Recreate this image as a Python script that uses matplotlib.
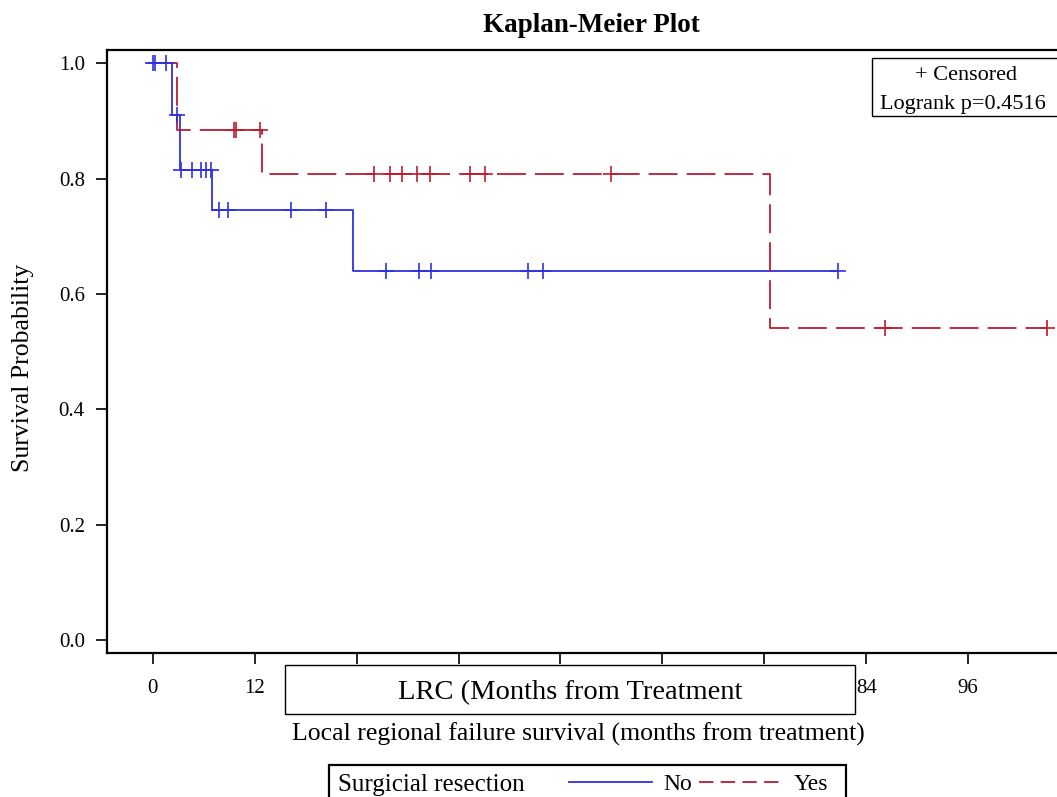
import numpy as np
import matplotlib
matplotlib.use("Agg")
import matplotlib.pyplot as plt
from matplotlib.patches import Rectangle
from matplotlib.lines import Line2D

plt.rcParams['font.family'] = ['Liberation Serif', 'DejaVu Serif']

# step curves (event times in months, survival after the step)
no_times = [0, 2.3, 3.2, 7.0, 23.6, 80.7]
no_surv = [1.0, 0.91, 0.815, 0.746, 0.64, 0.64]
no_censor = [0.0, 0.3, 1.5, 2.8, 3.3, 4.6, 5.7, 6.2, 6.9, 7.8, 8.9, 16.3,
             20.4, 27.4, 31.3, 32.7, 44.2, 46.0, 80.7]

yes_times = [0, 2.9, 12.9, 72.7, 105.3]
yes_surv = [1.0, 0.884, 0.809, 0.541, 0.541]
yes_censor = [9.5, 9.8, 12.6, 26.0, 27.9, 29.3, 31.1, 32.6, 37.3, 39.1,
              54.0, 86.2, 105.3]

x_ticks = [0, 12, 24, 36, 48, 60, 72, 84, 96]
# 24..72 sit under the "LRC" box in the original, so they are not shown
x_labels = ['0', '12', '', '', '', '', '', '84', '96']
y_ticks = [0.0, 0.2, 0.4, 0.6, 0.8, 1.0]

blue = '#3030E0'
red = '#BC1C30'
dash = (0, (16, 5))


def surv_at(times, surv, t):
    idx = np.searchsorted(times, t, side='right') - 1
    return np.asarray(surv)[idx]


W, H = 1057, 797
fig = plt.figure(figsize=(W / 100, H / 100), dpi=100)
ax = fig.add_axes([107 / W, 144 / H, 980 / W, 603 / H])

ax.step(no_times, no_surv, where='post', color=blue, lw=1.3)
ax.step(yes_times, yes_surv, where='post', color=red, lw=1.3, linestyle=dash)
ax.plot(no_censor, surv_at(no_times, no_surv, no_censor), '+', color=blue,
        ms=11, mew=1.2)
ax.plot(yes_censor, surv_at(yes_times, yes_surv, yes_censor), '+', color=red,
        ms=11, mew=1.2)

ax.set_xlim(-5.4, 110)
ax.set_ylim(-0.0225, 1.0234)
ax.set_xticks(x_ticks)
ax.set_xticklabels(x_labels)
ax.set_yticks(y_ticks)
ax.set_yticklabels([f'{v:.1f}' for v in y_ticks])
ax.tick_params(axis='both', labelsize=15, length=8, width=1.2, pad=8)
ax.tick_params(axis='x', pad=11)
for sp in ax.spines.values():
    sp.set_linewidth(1.6)

fig.text(591 / W, 1 - 25 / H, 'Kaplan-Meier Plot', ha='center', va='center',
         fontsize=19.5, fontweight='bold')
fig.text(23 / W, 1 - 368 / H, 'Survival Probability', ha='center', va='center',
         rotation=90, fontsize=18.5)
fig.text(578 / W, 1 - 734 / H,
         'Local regional failure survival (months from treatment)',
         ha='center', va='center', fontsize=18.5)

# box covering middle tick labels
fig.add_artist(Rectangle((285 / W, 1 - 714 / H), 570 / W, 49 / H,
                         transform=fig.transFigure, facecolor='white',
                         edgecolor='black', lw=1, zorder=10))
fig.text(570 / W, 1 - 693 / H, 'LRC (Months from Treatment', ha='center',
         va='center', fontsize=20.5, zorder=11)

# censor / logrank box
fig.add_artist(Rectangle((872 / W, 1 - 116 / H), 200 / W, 58 / H,
                         transform=fig.transFigure, facecolor='white',
                         edgecolor='black', lw=1, zorder=10))
fig.text(966 / W, 1 - 76 / H, '+ Censored', ha='center', va='center',
         fontsize=16, zorder=11)
fig.text(880 / W, 1 - 104 / H, 'Logrank p=0.4516', ha='left', va='center',
         fontsize=16, zorder=11)

# group legend at the bottom
fig.add_artist(Rectangle((329 / W, -0.05), 517 / W, (797 - 765) / H + 0.05,
                         transform=fig.transFigure, facecolor='white',
                         edgecolor='black', lw=1.6, zorder=10))
fig.text(338 / W, 1 - 785 / H, 'Surgicial resection', ha='left', va='center',
         fontsize=18, zorder=11)
handles = [Line2D([], [], color=blue, lw=1.3),
           Line2D([], [], color=red, lw=1.3, linestyle=(0, (8, 4)))]
leg = fig.legend(handles, ['No', 'Yes'], ncol=2, loc='center left',
                 bbox_to_anchor=(569 / W, 1 - 784 / H), frameon=False,
                 fontsize=17, borderpad=0, borderaxespad=0, handlelength=3.5,
                 handletextpad=0.5, columnspacing=0.3)
leg.set_zorder(12)

fig.savefig('out.png', dpi=100)
